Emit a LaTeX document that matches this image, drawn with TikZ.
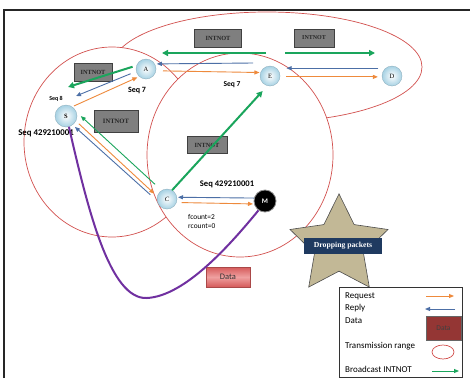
\documentclass[tikz,border=0pt]{standalone}
\usepackage{fontspec}
\setmainfont{Liberation Serif}
\newfontfamily\cfont{Carlito}
\usetikzlibrary{arrows.meta,shapes.geometric,calc}
\definecolor{cReq}{HTML}{EE8A3C}
\definecolor{cRep}{HTML}{4C6FA6}
\definecolor{cGreen}{HTML}{1AA55C}
\definecolor{cPurple}{HTML}{7030A0}
\definecolor{cRange}{HTML}{D2504E}
\definecolor{cGray}{HTML}{7F7F7F}
\definecolor{cBall}{HTML}{A6D1E3}
\definecolor{cNavy}{HTML}{1F3A60}
\definecolor{cStar}{HTML}{C2B896}
\definecolor{cDark}{HTML}{943634}
\definecolor{cDataT}{HTML}{D55A5A}
\definecolor{cDataM}{HTML}{EFA0A0}
\begin{document}
\begin{tikzpicture}[x=1pt,y=-1pt,
  reqline/.style={draw=cReq, line width=0.9pt, -{Triangle[length=5pt,width=4pt]}},
  repline/.style={draw=cRep, line width=0.9pt, -{Triangle[length=5pt,width=4pt]}},
  bcline/.style={draw=cGreen, line width=2pt, -{Triangle[length=6pt,width=6pt]}},
  bcthin/.style={draw=cGreen, line width=0.9pt, -{Triangle[length=5pt,width=4pt]}},
  dataline/.style={draw=cPurple, line width=2pt},
  rangeell/.style={draw=cRange, line width=0.7pt},
  intbox/.style={draw=black!75, fill=cGray, inner sep=0pt, text=black!85,
    font=\fontsize{6.3}{7}\selectfont\bfseries},
  nball/.style={circle, inner sep=0pt, minimum size=20pt, shading=radial,
    inner color=white, outer color=cBall, draw=cBall!80!black, line width=0.3pt,
    font=\fontsize{6.5}{7}\selectfont},
  seqlbl/.style={font=\cfont\bfseries\fontsize{8}{9}\selectfont, inner sep=0pt},
  lgtext/.style={font=\cfont\fontsize{9}{10}\selectfont, anchor=west, inner sep=0pt},
]
\useasboundingbox (0,0) rectangle (470,378);
\fill[white] (0,0) rectangle (470,378);
% frame
\draw[line width=1.5pt, black!85] (4,378) -- (4,10) -- (470,10);

% transmission ranges
\draw[rangeell] (267,67) ellipse [x radius=155pt, y radius=55pt];
\draw[rangeell, fill=white] (112,142) ellipse [x radius=88pt, y radius=95pt];
\draw[rangeell, fill=white] (240,155) ellipse [x radius=93pt, y radius=102pt];

% star
\node[star, star points=5, star point ratio=2.0, minimum size=103pt, inner sep=0pt,
  fill=cStar, draw=black!70, line width=0.6pt] (star) at (339,245.4) {};
\node[fill=cNavy, text=white, minimum width=78pt, minimum height=16pt, inner sep=0pt,
  font=\fontsize{7.7}{8}\selectfont\bfseries] (drop) at (343,246) {Dropping packets};

% INTNOT boxes
\node[intbox, minimum width=38pt, minimum height=18pt] (int1) at (93,72) {INTNOT};
\node[intbox, minimum width=44pt, minimum height=22pt, font=\fontsize{6.6}{7}\selectfont\bfseries] (int2) at (116,121) {INTNOT};
\node[intbox, minimum width=40pt, minimum height=17pt] (int3) at (207,145) {INTNOT};
\node[intbox, minimum width=47pt, minimum height=18pt] (int4) at (218,38) {INTNOT};
\node[intbox, minimum width=40pt, minimum height=18pt, font=\fontsize{6}{7}\selectfont\bfseries] (int5) at (314,38) {INTNOT};

% data box
\node[draw=cDataT!80!black, top color=cDataT, bottom color=cDataT, middle color=cDataM,
  minimum width=44pt, minimum height=20pt, inner sep=0pt,
  font=\cfont\fontsize{8.5}{9}\selectfont, text=black!80] (data) at (228,277) {Data};

% nodes
\node[nball] (A) at (146,69) {A};
\node[nball, minimum size=22pt, font=\fontsize{6.5}{7}\selectfont\bfseries] (S) at (66,116) {S};
\node[nball] (E) at (270,76) {E};
\node[nball] (D) at (392,76) {D};
\node[nball, font=\fontsize{6.5}{7}\selectfont\itshape] (C) at (167,199) {C};
\node[circle, inner sep=0pt, minimum size=22pt, fill=black, draw=black!45, line width=0.8pt,
  text=white, font=\cfont\bfseries\fontsize{7}{8}\selectfont] (M) at (265,201) {M};

% labels
\node[seqlbl, font=\cfont\bfseries\fontsize{6}{7}\selectfont] (seq8) at (56,99) {Seq 8};
\node[seqlbl] (seq7a) at (137,91) {Seq 7};
\node[seqlbl, font=\cfont\bfseries\fontsize{8.8}{10}\selectfont] (seqS) at (46,133) {Seq 429210001};
\node[seqlbl, font=\cfont\bfseries\fontsize{7.5}{8}\selectfont] (seq7e) at (232,85) {Seq 7};
\node[seqlbl, font=\cfont\bfseries\fontsize{8.6}{9}\selectfont] (seqC) at (227,184) {Seq 429210001};
\node[anchor=west, inner sep=0pt, font=\cfont\fontsize{7.4}{8}\selectfont] (fc) at (188,217) {fcount=2};
\node[anchor=west, inner sep=0pt, font=\cfont\fontsize{7.4}{8}\selectfont] (rc) at (188,226) {rcount=0};

% free ends
\coordinate (gt1) at (266,53);
\coordinate (gt2) at (162,53);
\coordinate (gt3) at (285,53);
\coordinate (gt4) at (375,53);
\coordinate (rEA) at (253,63);
\coordinate (g1) at (68,87);
\coordinate (r1) at (76,96);

% connectors
\draw[bcline] (gt1) -- (gt2);
\draw[bcline] (gt3) -- (gt4);
\draw[repline, shorten >=2pt] (rEA) -- (A.30);
\draw[repline, shorten <=7pt, shorten >=10pt] (D.130) -- (E.50);
\draw[reqline, shorten <=7pt, shorten >=1pt] (A.-10) -- (E.160);
\draw[reqline, shorten <=6pt, shorten >=4pt] (E.-5) -- (D.185);
\draw[bcline, shorten <=4pt] (A.160) -- (g1);
\draw[repline, shorten <=6pt] (A.194) -- (r1);
\draw[reqline, shorten <=2pt, shorten >=2pt] (S.56) -- (A.228);
\draw[bcline, shorten >=7pt] (C.60) -- (E.-105);
\draw[bcthin, shorten <=9pt, shorten >=6pt] (C.122) -- (S.21);
\draw[reqline, shorten <=4pt, shorten >=4pt] (S.-27) -- (C.165);
\draw[repline, shorten <=9pt, shorten >=3pt] (C.190) -- (S.-53);
\draw[repline, shorten >=1pt] (M.165) -- (C.10);
\draw[reqline, shorten <=5pt, shorten >=1pt] (C.-20) -- (M.195);
\draw[dataline] (S.-75) .. controls (88,210) and (110,300) .. (147,298)
  .. controls (185,296) and (230,245) .. (M.-125);

% legend
\node[draw=black!80, line width=0.6pt, minimum width=123pt, minimum height=90pt, inner sep=0pt] (legend) at (400.5,332) {};
\node[lgtext] (l1) at (345,296) {Request};
\node[lgtext] (l2) at (345,308) {Reply};
\node[lgtext] (l3) at (345,321) {Data};
\node[lgtext] (l4) at (345,346) {Transmission range};
\node[lgtext] (l5) at (345,369) {Broadcast INTNOT};
\coordinate (lq1) at (426,296);
\coordinate (lq2) at (454,296);
\coordinate (lp1) at (455,309);
\coordinate (lp2) at (425,309);
\coordinate (lb1) at (432,371);
\coordinate (lb2) at (459,371);
\draw[reqline] (lq1) -- (lq2);
\draw[repline] (lp1) -- (lp2);
\draw[bcthin] (lb1) -- (lb2);
\node[fill=cDark, draw=black!60, minimum width=35pt, minimum height=24pt, inner sep=0pt,
  font=\cfont\fontsize{7.5}{8}\selectfont, text=black!75] (ldata) at (443.5,328) {Data};
\node[ellipse, draw=cRange, line width=0.7pt, minimum width=22pt, minimum height=14pt, inner sep=0pt] (lrange) at (443,352) {};
\end{tikzpicture}
\end{document}
